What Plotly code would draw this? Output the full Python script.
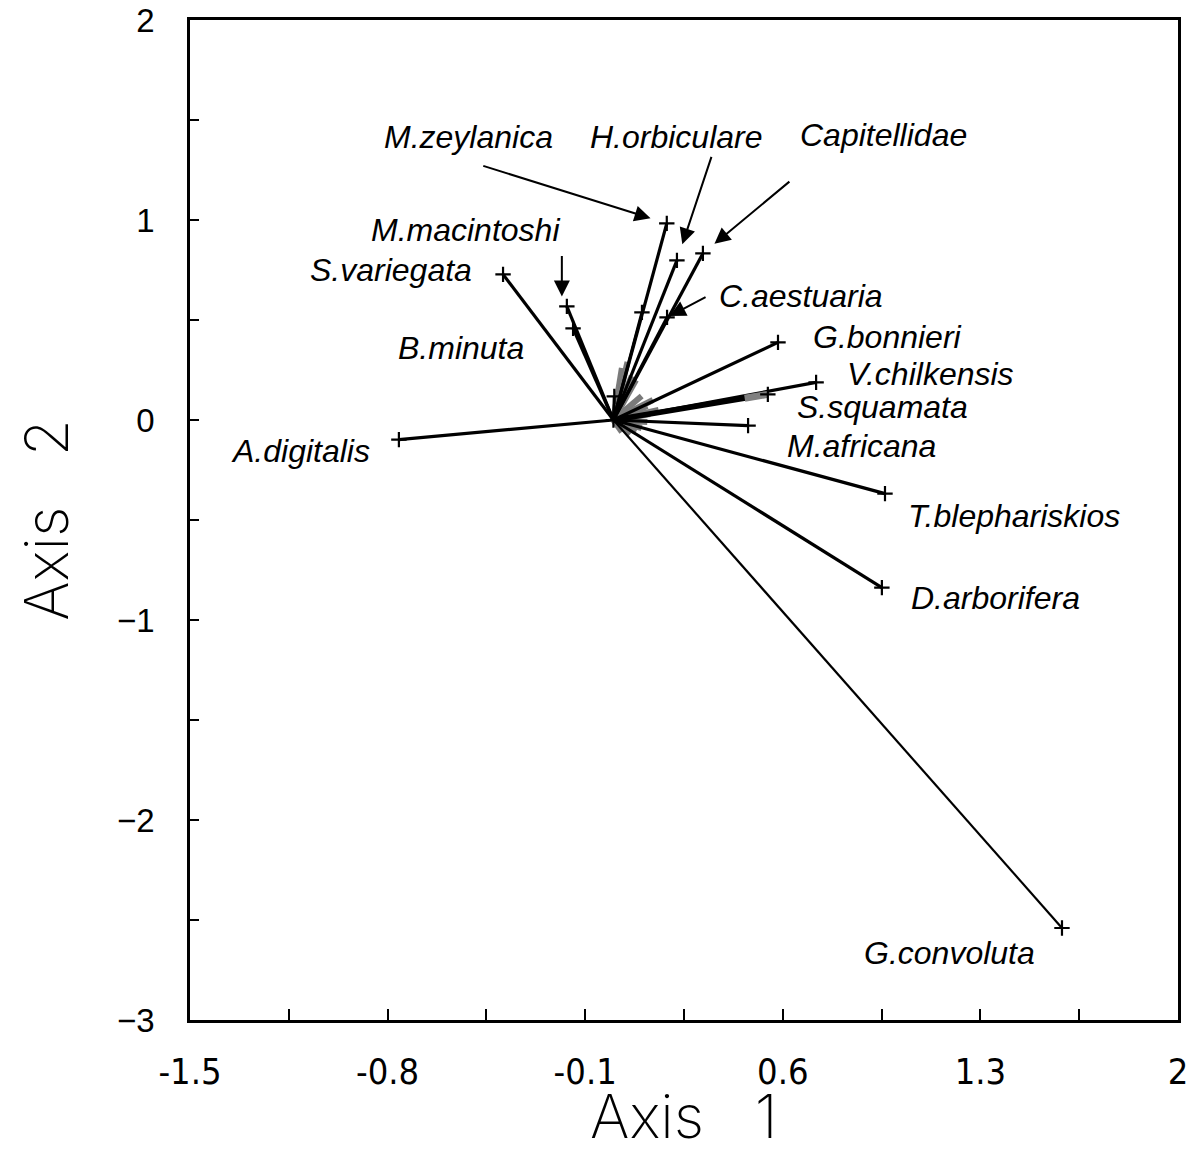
import plotly.graph_objects as go

# ---- data ----
species = ["A.digitalis", "S.variegata", "M.macintoshi", "B.minuta", "M.zeylanica",
           "H.orbiculare", "Capitellidae", "C.aestuaria", "G.bonnieri", "V.chilkensis",
           "S.squamata", "M.africana", "T.blephariskios", "D.arborifera", "G.convoluta"]
axis1 = [-0.760, -0.391, -0.165, -0.143, 0.189, 0.225, 0.317, 0.190, 0.583, 0.718,
         0.547, 0.477, 0.962, 0.951, 1.589]
axis2 = [-0.098, 0.728, 0.568, 0.458, 0.983, 0.798, 0.833, 0.513, 0.388, 0.188,
         0.128, -0.028, -0.368, -0.838, -2.540]

# unlabeled species vectors
other1 = [0.101, 0.003]
other2 = [0.538, 0.118]

# minor (grey) species vectors clustered at the origin
minor1 = [0.03, 0.05, 0.065, 0.08, 0.10, 0.12, 0.13, 0.12, 0.10, 0.08, 0.06, 0.03, 0.14, 0.16]
minor2 = [0.26, 0.29, 0.22, 0.20, 0.12, 0.07, 0.03, -0.01, -0.04, -0.06, -0.07, -0.06, 0.10, 0.05]

xtick_vals = [-1.5, -1.15, -0.8, -0.45, -0.1, 0.25, 0.6, 0.95, 1.3, 1.65, 2.0]
xtick_text = ["-1.5", "", "-0.8", "", "-0.1", "", "0.6", "", "1.3", "", "2"]
ytick_vals = [2, 1.5, 1, 0.5, 0, -0.5, -1, -1.5, -2, -2.5, -3]
ytick_text = ["2", "", "1", "", "0", "", "\u22121", "", "\u22122", "", "\u22123"]

x_title = "Axis\u00a0\u00a0\u00a01"
y_title = "Axis\u00a0\u00a0\u00a02"

# ---- styles / label placement (pixel offsets from the point) ----
label_offsets = {
    "A.digitalis": (-98, 11), "S.variegata": (-112, -4), "M.macintoshi": (-101, -76),
    "B.minuta": (-112, 20), "M.zeylanica": (-198, -86), "H.orbiculare": (0, -123),
    "Capitellidae": (181, -118), "C.aestuaria": (134, -21), "G.bonnieri": (109, -5),
    "V.chilkensis": (114, -8), "S.squamata": (115, 13), "M.africana": (113, 20),
    "T.blephariskios": (129, 22), "D.arborifera": (114, 10), "G.convoluta": (-112, 25),
}
# arrow tails (pixel offsets from head), standoff, xshift
arrows = {
    "M.zeylanica": (-185, -58, 17, 0),
    "H.orbiculare": (35, -105, 17, 0),
    "Capitellidae": (88, -73, 15, 0),
    "M.macintoshi": (0, -52, 10, -5),
    "C.aestuaria": (40, -21, 3, 0),
}
line_widths = {"S.squamata": 5.5, "G.convoluta": 2.2}

narrow = "Liberation Sans Narrow, Arial Narrow, DejaVu Sans Condensed, Roboto Condensed, Roboto, sans-serif"

fig = go.Figure()

for x, y in zip(minor1, minor2):
    fig.add_trace(go.Scatter(x=[0, x], y=[0, y], mode="lines",
                             line=dict(color="#7a7a7a", width=6), showlegend=False,
                             hoverinfo="skip"))

for x, y in zip(other1, other2):
    fig.add_trace(go.Scatter(x=[0, x], y=[0, y], mode="lines",
                             line=dict(color="black", width=3),
                             showlegend=False, hoverinfo="skip"))

for name, x, y in zip(species, axis1, axis2):
    fig.add_trace(go.Scatter(x=[0, x], y=[0, y], mode="lines",
                             line=dict(color="black", width=line_widths.get(name, 3.2)),
                             showlegend=False, hoverinfo="skip"))

fig.add_trace(go.Scatter(x=[axis1[10] * 0.85, axis1[10]], y=[axis2[10] * 0.85, axis2[10]],
                         mode="lines", line=dict(color="#808080", width=7),
                         showlegend=False, hoverinfo="skip"))

fig.add_trace(go.Scatter(x=axis1 + other1 + [0], y=axis2 + other2 + [0], mode="markers",
                         marker=dict(symbol="cross-thin", size=11,
                                     line=dict(color="black", width=2.2)),
                         showlegend=False, hoverinfo="skip"))

label_font = dict(family="Liberation Sans, Arial, sans-serif", size=32, color="black", style="italic")
for name, x, y in zip(species, axis1, axis2):
    dx, dy = label_offsets[name]
    fig.add_annotation(x=x, y=y, text=name, showarrow=False, font=label_font,
                       xshift=dx, yshift=-dy, xanchor="center", yanchor="middle")
    if name in arrows:
        ax, ay, so, xs = arrows[name]
        fig.add_annotation(x=x, y=y, text="", showarrow=True, ax=ax, ay=ay,
                           standoff=so, arrowhead=2, arrowsize=1.6, arrowwidth=2,
                           arrowcolor="black", xshift=xs)

title_font = dict(family="Inter, Roboto, Liberation Sans, sans-serif", size=60,
                  color="black", weight=200)

# x-axis title placed below the tick labels
fig.add_annotation(xref="paper", yref="paper", x=0.5, y=0, text=x_title, showarrow=False,
                   font=title_font, xanchor="center", yanchor="bottom", yshift=-134)

# the page adds an 8px body margin; size the figure so the plot box lands in place
fig.update_layout(
    width=1185, height=1146,
    margin=dict(l=182, r=15, t=12, b=134),
    paper_bgcolor="white", plot_bgcolor="white",
    xaxis=dict(range=[-1.5, 2.0], tickvals=xtick_vals, ticktext=xtick_text,
               ticks="inside", ticklen=11, tickwidth=2, tickcolor="black",
               showline=True, linecolor="black", linewidth=2.5, mirror=True,
               showgrid=False, zeroline=False, ticklabelstandoff=18, automargin=False,
               ticklabeloverflow="allow",
               tickfont=dict(family=narrow, size=36, color="black")),
    yaxis=dict(range=[-3, 2], tickvals=ytick_vals, ticktext=ytick_text,
               ticks="inside", ticklen=9, tickwidth=2, tickcolor="black",
               showline=True, linecolor="black", linewidth=2.5, mirror=True,
               showgrid=False, zeroline=False, ticklabelstandoff=26, automargin=False,
               ticklabeloverflow="allow",
               tickfont=dict(family="Liberation Sans, Arial, sans-serif", size=33, color="black"),
               title=dict(text=y_title, standoff=30, font=title_font)),
)

fig.write_html("out.html")
